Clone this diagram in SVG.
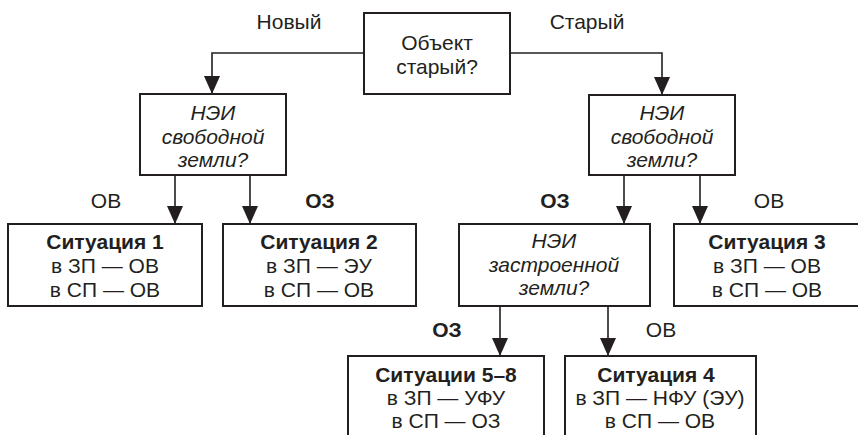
<svg xmlns="http://www.w3.org/2000/svg" width="858" height="435" viewBox="0 0 858 435">
<style>
.box{fill:#fff;stroke:#231f20;stroke-width:2}
.ln{fill:none;stroke:#231f20;stroke-width:1.6}
text{font-family:"Liberation Sans",Arial,sans-serif;font-size:21px;fill:#231f20;text-anchor:middle}
.b{font-weight:bold}
.i{font-style:italic}
</style>
<defs>
<marker id="ah" viewBox="0 0 18 16" refX="18" refY="8" markerWidth="18" markerHeight="16" markerUnits="userSpaceOnUse" orient="auto">
<path d="M0,0 L18,8 L0,16 Z" fill="#231f20"/>
</marker>
</defs>
<rect width="858" height="435" fill="#fff"/>
<g id="connectors">
<path class="ln" d="M364,53 H212 V94" marker-end="url(#ah)"/>
<path class="ln" d="M510,53 H662 V95" marker-end="url(#ah)"/>
<path class="ln" d="M175,175 V224" marker-end="url(#ah)"/>
<path class="ln" d="M250,175 V224" marker-end="url(#ah)"/>
<path class="ln" d="M624,175 V224" marker-end="url(#ah)"/>
<path class="ln" d="M700,175 V224" marker-end="url(#ah)"/>
<path class="ln" d="M500,306 V356" marker-end="url(#ah)"/>
<path class="ln" d="M608,306 V356" marker-end="url(#ah)"/>
</g>
<g id="labels">
<text x="289" y="29">Новый</text>
<text x="587" y="29">Старый</text>
<text x="106" y="208">ОВ</text>
<text class="b" x="320" y="208">ОЗ</text>
<text class="b" x="555" y="208">ОЗ</text>
<text x="769" y="208">ОВ</text>
<text class="b" x="447" y="337">ОЗ</text>
<text x="661" y="337">ОВ</text>
</g>
<g id="n-root">
<rect class="box" x="364" y="13" width="146" height="81"/>
<text x="437" y="50">Объект</text>
<text x="437" y="74">старый?</text>
</g>
<g id="n-free-left">
<rect class="box" x="140" y="94" width="146" height="81"/>
<text class="i" x="213" y="120">НЭИ</text>
<text class="i" x="213" y="144">свободной</text>
<text class="i" x="213" y="167">земли?</text>
</g>
<g id="n-free-right">
<rect class="box" x="589" y="95" width="146" height="80"/>
<text class="i" x="662" y="120">НЭИ</text>
<text class="i" x="662" y="144">свободной</text>
<text class="i" x="662" y="167">земли?</text>
</g>
<g id="n-sit1">
<rect class="box" x="8" y="224" width="194" height="82"/>
<text class="b" x="105" y="249">Ситуация 1</text>
<text x="105" y="273">в ЗП — ОВ</text>
<text x="105" y="297">в СП — ОВ</text>
</g>
<g id="n-sit2">
<rect class="box" x="223" y="224" width="193" height="82"/>
<text class="b" x="319" y="249">Ситуация 2</text>
<text x="319" y="273">в ЗП — ЭУ</text>
<text x="319" y="297">в СП — ОВ</text>
</g>
<g id="n-built">
<rect class="box" x="459" y="224" width="191" height="82"/>
<text class="i" x="554" y="248">НЭИ</text>
<text class="i" x="554" y="272">застроенной</text>
<text class="i" x="554" y="295">земли?</text>
</g>
<g id="n-sit3">
<rect class="box" x="674" y="224" width="190" height="82"/>
<text class="b" x="767" y="249">Ситуация 3</text>
<text x="767" y="273">в ЗП — ОВ</text>
<text x="767" y="297">в СП — ОВ</text>
</g>
<g id="n-sit58">
<rect class="box" x="348" y="356" width="196" height="90"/>
<text class="b" x="446" y="382">Ситуации 5–8</text>
<text x="446" y="405">в ЗП — УФУ</text>
<text x="446" y="428">в СП — ОЗ</text>
</g>
<g id="n-sit4">
<rect class="box" x="565" y="356" width="191" height="90"/>
<text class="b" x="656" y="382">Ситуация 4</text>
<text x="660" y="405">в ЗП — НФУ (ЭУ)</text>
<text x="660" y="428">в СП — ОВ</text>
</g>
</svg>
